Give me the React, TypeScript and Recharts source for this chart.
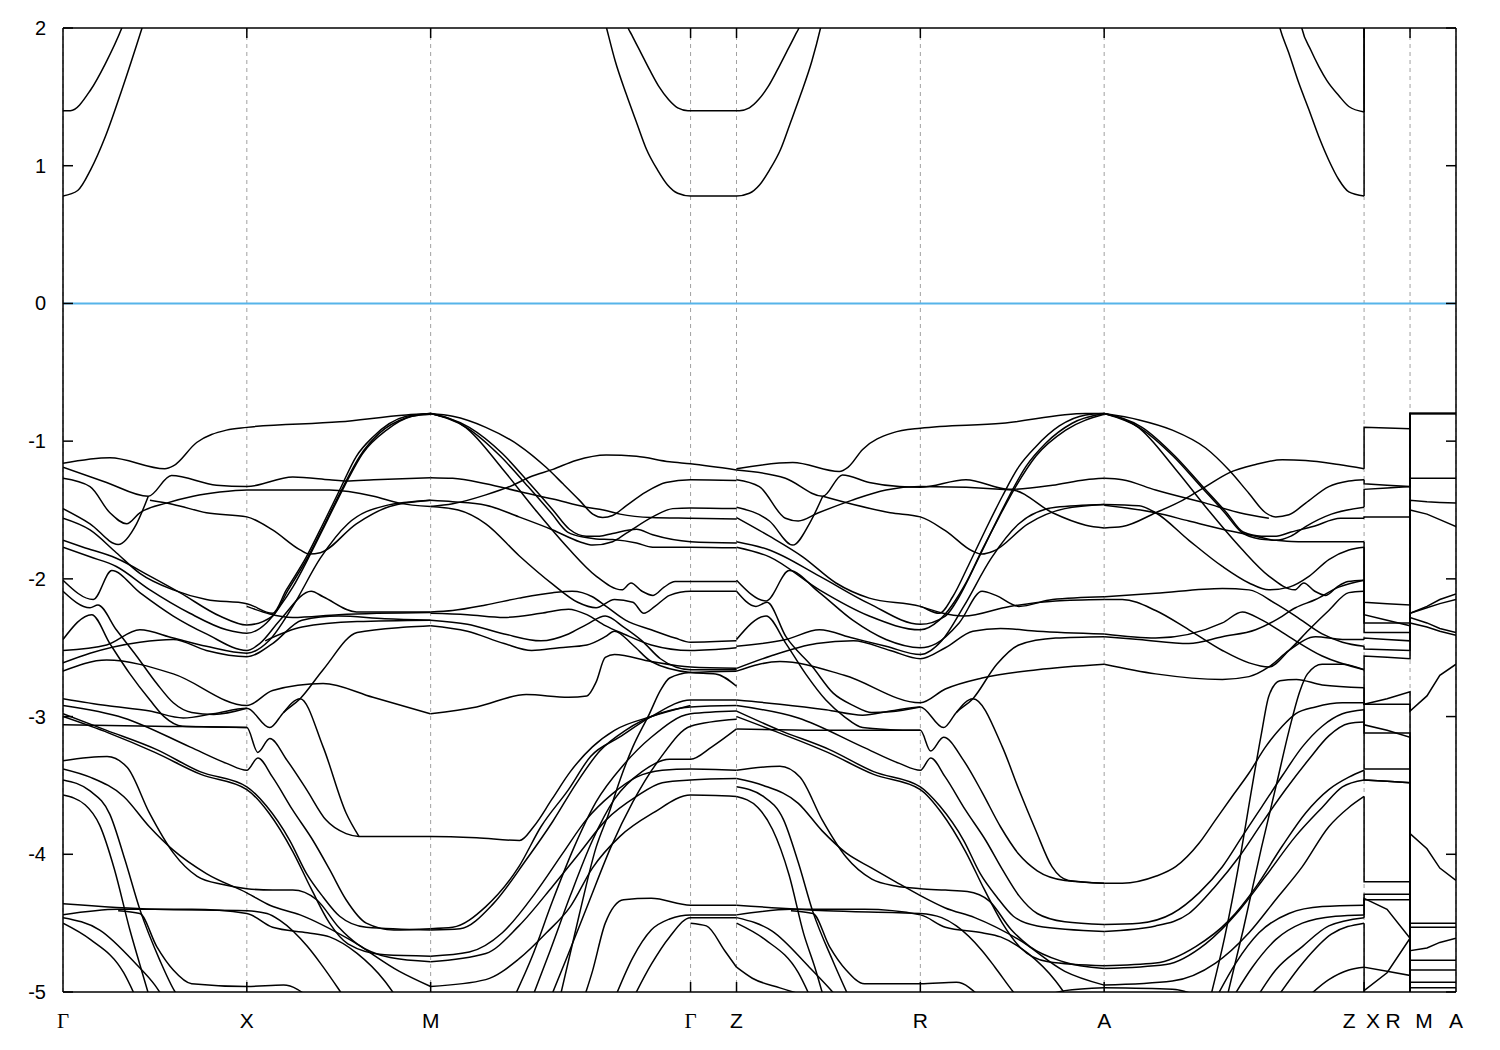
import React from "react";
import { LineChart, Line, XAxis, YAxis, CartesianGrid, ReferenceLine } from "recharts";

type Pt = [number, number];

// path: Γ-X-M-Γ-Z-R-A-Z|X-R|M-A  (k in units of 2π/a)
const kTicks = [0, 1, 2, 3.414, 3.664, 4.664, 5.664, 7.078, 7.328, 7.578];
const kLabels = ["Γ", "X", "M", "Γ", "Z", "R", "A", "Z X", "R M", "A"];
const eTicks = [2, 1, 0, -1, -2, -3, -4, -5];

// conduction bands
const conduction: Pt[][] = [
  [[0,0.78],[0.08,0.82],[0.15,0.97],[0.23,1.21],[0.32,1.55],[0.43,2.0],[0.5,2.3]],
  [[0,1.40],[0.04,1.40],[0.15,1.55],[0.23,1.74],[0.32,2.0],[0.4,2.3]],
  [[2.9,2.3],[2.957,2.0],[3.004,1.76],[3.064,1.52],[3.124,1.30],[3.174,1.12],[3.234,0.97],[3.289,0.86],[3.344,0.80],[3.414,0.78],[3.664,0.78],[3.734,0.80],[3.789,0.86],[3.844,0.97],[3.904,1.12],[3.954,1.30],[4.014,1.52],[4.074,1.76],[4.121,2.0],[4.17,2.3]],
  [[3.03,2.3],[3.069,2.02],[3.094,1.95],[3.144,1.82],[3.194,1.69],[3.244,1.57],[3.294,1.48],[3.344,1.42],[3.40,1.40],[3.68,1.40],[3.734,1.42],[3.784,1.48],[3.834,1.57],[3.884,1.69],[3.934,1.82],[3.984,1.95],[4.009,2.02],[4.05,2.3]],
  [[6.57,2.3],[6.62,2.0],[6.668,1.82],[6.723,1.60],[6.777,1.41],[6.832,1.21],[6.886,1.04],[6.94,0.90],[6.995,0.81],[7.078,0.78]],
  [[6.70,2.3],[6.739,2.0],[6.788,1.84],[6.832,1.72],[6.875,1.62],[6.94,1.51],[6.995,1.43],[7.078,1.39]],
];
const conductionJumps: Pt[][] = [
  [[7.078,0.78],[7.078,2.5]],
  [[7.078,1.39],[7.078,2.5]],
];

// valence bands Γ-X-M
const bandsGXM: Pt[][] = [
  [[0,-1.16],[0.255,-1.12],[0.554,-1.20],[0.60,-1.18],[0.727,-1.01],[0.889,-0.92],[1.0,-0.90],[1.505,-0.86],[1.867,-0.81],[2.0,-0.80]],
  [[0,-1.19],[0.237,-1.30],[0.464,-1.40],[0.59,-1.25],[0.835,-1.32],[1.0,-1.33],[1.25,-1.26],[1.45,-1.28],[1.54,-1.29],[1.69,-1.28],[2.0,-1.265]],
  [[0,-1.27],[0.147,-1.33],[0.255,-1.52],[0.346,-1.60],[0.418,-1.52],[0.563,-1.45],[0.708,-1.40],[0.853,-1.37],[1.0,-1.355],[1.45,-1.355],[1.69,-1.40],[1.83,-1.45],[2.0,-1.475]],
  [[0,-1.49],[0.147,-1.60],[0.30,-1.75],[0.40,-1.60],[0.464,-1.40]],
  [[0,-1.56],[0.147,-1.645],[0.29,-1.81],[0.418,-1.96],[0.60,-2.08],[0.78,-2.15],[1.0,-2.18],[1.14,-2.25],[1.215,-2.08],[1.324,-1.84],[1.415,-1.60],[1.505,-1.355],[1.596,-1.11],[1.686,-0.97],[1.868,-0.82],[2.0,-0.80]],
  [[0,-1.72],[0.11,-1.77],[0.29,-1.85],[0.473,-1.98],[0.636,-2.10],[0.853,-2.27],[1.0,-2.335],[1.14,-2.27],[1.225,-2.08],[1.333,-1.84],[1.424,-1.60],[1.515,-1.355],[1.614,-1.11],[1.723,-0.94],[1.868,-0.83],[2.0,-0.80]],
  [[0,-1.77],[0.147,-1.84],[0.29,-1.91],[0.473,-2.08],[0.69,-2.25],[0.89,-2.37],[1.0,-2.395],[1.107,-2.32],[1.18,-2.20],[1.25,-2.06],[1.35,-1.81],[1.44,-1.57],[1.53,-1.33],[1.63,-1.09],[1.76,-0.92],[1.90,-0.82],[2.0,-0.805]],
  [[0,-2.01],[0.165,-2.15],[0.265,-1.94],[0.418,-2.10],[0.60,-2.27],[0.78,-2.40],[1.0,-2.52],[1.07,-2.47],[1.18,-2.30],[1.35,-2.09],[1.415,-2.13],[1.596,-2.24],[2.0,-2.24]],
  [[0,-2.09],[0.147,-2.21],[0.19,-2.19],[0.29,-2.37],[0.40,-2.56],[0.51,-2.76],[0.60,-2.90],[0.70,-2.97],[0.82,-2.985],[1.0,-2.94]],
  [[0,-2.44],[0.156,-2.26],[0.255,-2.47],[0.364,-2.69],[0.473,-2.88],[0.55,-3.0],[0.65,-3.07],[0.8,-3.075],[1.0,-3.08]],
  [[0,-2.52],[0.237,-2.48],[0.418,-2.37],[0.60,-2.43],[0.78,-2.49],[1.0,-2.54],[1.12,-2.45],[1.25,-2.2],[1.4,-1.85],[1.55,-1.6],[1.75,-1.47],[2.0,-1.43]],
  [[0,-2.61],[0.147,-2.54],[0.418,-2.46],[0.60,-2.44],[0.78,-2.52],[1.0,-2.565],[1.14,-2.47],[1.3,-2.30],[1.5,-2.27],[1.75,-2.29],[2.0,-2.30]],
  [[0,-2.67],[0.237,-2.59],[0.60,-2.69],[1.0,-2.92],[1.14,-2.81],[1.415,-2.76],[1.686,-2.86],[2.0,-2.98]],
  [[0.473,-1.43],[0.60,-1.46],[0.78,-1.52],[1.0,-1.55],[1.14,-1.645],[1.29,-1.79],[1.34,-1.82],[1.40,-1.81],[1.596,-1.60],[1.777,-1.475],[2.0,-1.43]],
  [[1.0,-2.20],[1.25,-2.28],[1.5,-2.26],[2.0,-2.245]],
  [[1.1,-2.45],[1.3,-2.35],[1.6,-2.31],[2.0,-2.30]],
  [[0,-2.87],[0.237,-2.92],[0.473,-2.96],[0.654,-3.01],[0.817,-2.98],[1.0,-2.94],[1.125,-3.08],[1.2,-2.97],[1.29,-2.87],[1.415,-2.66],[1.6,-2.39],[1.87,-2.35],[2.0,-2.34]],
  [[1.2,-2.97],[1.29,-2.87],[1.415,-3.22],[1.54,-3.70],[1.61,-3.87]],
  [[0,-3.06],[0.5,-3.07],[1.0,-3.08],[1.06,-3.26],[1.125,-3.16],[1.22,-3.32],[1.325,-3.53],[1.43,-3.75],[1.54,-3.85],[1.61,-3.87],[2.0,-3.87],[2.25,-3.88],[2.484,-3.90],[2.56,-3.80],[2.66,-3.60],[2.76,-3.40],[2.88,-3.22],[3.0,-3.10],[3.2,-3.0],[3.414,-2.92]],
  [[0,-2.92],[0.33,-3.01],[0.69,-3.22],[0.89,-3.34],[1.0,-3.39],[1.06,-3.30],[1.14,-3.44],[1.25,-3.68],[1.36,-3.90],[1.45,-4.11],[1.54,-4.33],[1.65,-4.50],[1.8,-4.55],[2.0,-4.54]],
  [[0,-2.98],[0.237,-3.10],[0.51,-3.24],[0.745,-3.40],[1.0,-3.51],[1.107,-3.65],[1.234,-3.90],[1.325,-4.14],[1.415,-4.31],[1.505,-4.45],[1.65,-4.53],[2.0,-4.55]],
  [[0,-3.0],[0.25,-3.12],[0.5,-3.26],[0.75,-3.42],[1.0,-3.53],[1.12,-3.70],[1.25,-3.98],[1.35,-4.25],[1.45,-4.50],[1.55,-4.65],[1.75,-4.73],[2.0,-4.74]],
  [[0,-3.32],[0.24,-3.29],[0.35,-3.37],[0.47,-3.70],[0.60,-3.99],[0.73,-4.16],[0.87,-4.22],[1.0,-4.25],[1.14,-4.26],[1.25,-4.26],[1.38,-4.33],[1.5,-4.53],[1.6,-4.65],[1.78,-4.75],[2.0,-4.78]],
  [[0,-3.38],[0.147,-3.44],[0.33,-3.58],[0.47,-3.80],[0.6,-3.97],[0.78,-4.14],[1.0,-4.28],[1.125,-4.37],[1.29,-4.44],[1.56,-4.62],[1.83,-4.85],[2.0,-4.96]],
  [[0,-3.46],[0.147,-3.54],[0.255,-3.71],[0.337,-4.04],[0.418,-4.40],[0.527,-4.77],[0.61,-5.0],[0.69,-5.13]],
  [[0,-3.57],[0.12,-3.64],[0.2,-3.79],[0.28,-4.11],[0.364,-4.55],[0.418,-4.80],[0.473,-5.05]],
  [[0,-4.36],[0.5,-4.40],[1.0,-4.41],[1.11,-4.43],[1.18,-4.48],[1.33,-4.67],[1.4,-4.79],[1.5,-4.98],[1.55,-5.08]],
  [[0,-4.44],[0.3,-4.40],[0.7,-4.40],[1.0,-4.43],[1.14,-4.53],[1.33,-4.57],[1.45,-4.60],[1.6,-4.72],[1.75,-4.92],[1.82,-5.05]],
  [[0,-4.46],[0.2,-4.55],[0.4,-4.80],[0.5,-4.95],[0.55,-5.05]],
  [[0,-4.50],[0.15,-4.62],[0.33,-4.86],[0.4,-5.05]],
  [[0.3,-4.41],[0.418,-4.43],[0.51,-4.67],[0.6,-4.84],[0.7,-4.94],[1.0,-4.96],[1.2,-4.95],[1.35,-5.05]],
];

// valence bands M-Γ-Z
const bandsMGZ: Pt[][] = [
  [[2.0,-0.80],[2.12,-0.82],[2.30,-0.90],[2.48,-1.03],[2.628,-1.19],[2.72,-1.31],[2.81,-1.43],[2.882,-1.53],[2.936,-1.555],[2.99,-1.54],[3.063,-1.47],[3.17,-1.37],[3.28,-1.30],[3.414,-1.28],[3.664,-1.285]],
  [[2.0,-1.475],[2.12,-1.455],[2.30,-1.39],[2.447,-1.32],[2.54,-1.26],[2.665,-1.205],[2.79,-1.14],[2.955,-1.10],[3.12,-1.11],[3.30,-1.15],[3.414,-1.165],[3.664,-1.21]],
  [[2.0,-1.265],[2.12,-1.27],[2.30,-1.31],[2.48,-1.365],[2.665,-1.42],[2.846,-1.48],[2.94,-1.50],[3.03,-1.53],[3.2,-1.555],[3.414,-1.56],[3.664,-1.565]],
  [[2.0,-1.43],[2.12,-1.44],[2.30,-1.465],[2.48,-1.55],[2.665,-1.645],[2.81,-1.73],[2.882,-1.755],[2.99,-1.73],[3.063,-1.67],[3.208,-1.55],[3.317,-1.49],[3.414,-1.485],[3.664,-1.49]],
  [[2.0,-0.80],[2.21,-0.90],[2.39,-1.09],[2.54,-1.31],[2.665,-1.50],[2.755,-1.64],[2.846,-1.69],[2.918,-1.69],[2.99,-1.67],[3.12,-1.64],[3.208,-1.68],[3.414,-1.73],[3.664,-1.74]],
  [[2.0,-0.80],[2.20,-0.905],[2.38,-1.11],[2.53,-1.33],[2.655,-1.52],[2.745,-1.66],[2.846,-1.70],[2.90,-1.71],[2.99,-1.715],[3.12,-1.74],[3.208,-1.77],[3.414,-1.77],[3.664,-1.775]],
  [[2.0,-0.80],[2.19,-0.90],[2.39,-1.20],[2.57,-1.50],[2.75,-1.78],[2.90,-1.98],[3.04,-2.08],[3.09,-2.03],[3.15,-2.09],[3.21,-2.12],[3.27,-2.06],[3.33,-2.02],[3.414,-2.02],[3.664,-2.02]],
  [[2.0,-1.475],[2.15,-1.50],[2.30,-1.60],[2.48,-1.83],[2.665,-2.04],[2.80,-2.17],[2.90,-2.21],[3.00,-2.15],[3.10,-2.17],[3.16,-2.25],[3.22,-2.20],[3.30,-2.12],[3.414,-2.09],[3.664,-2.09]],
  [[2.0,-2.24],[2.12,-2.23],[2.30,-2.19],[2.48,-2.14],[2.665,-2.10],[2.77,-2.09],[2.88,-2.13],[2.955,-2.20],[3.06,-2.30],[3.2,-2.37],[3.33,-2.43],[3.414,-2.46],[3.664,-2.45]],
  [[2.0,-2.25],[2.2,-2.26],[2.4,-2.28],[2.6,-2.25],[2.75,-2.22],[2.85,-2.26],[2.95,-2.34],[3.05,-2.40],[3.2,-2.48],[3.414,-2.52],[3.664,-2.50]],
  [[2.0,-2.30],[2.2,-2.33],[2.4,-2.40],[2.6,-2.45],[2.75,-2.40],[2.85,-2.33],[2.95,-2.27],[3.05,-2.35],[3.15,-2.45],[3.25,-2.58],[3.414,-2.66],[3.664,-2.66]],
  [[2.0,-2.34],[2.2,-2.38],[2.4,-2.47],[2.55,-2.52],[2.7,-2.50],[2.85,-2.48],[2.95,-2.42],[3.0,-2.38],[3.1,-2.48],[3.2,-2.60],[3.414,-2.68],[3.55,-2.69],[3.664,-2.78]],
  [[2.0,-2.98],[2.25,-2.93],[2.52,-2.84],[2.75,-2.86],[2.85,-2.85],[2.90,-2.75],[2.95,-2.57],[3.0,-2.55],[3.2,-2.60],[3.414,-2.64],[3.664,-2.65]],
  [[2.70,-5.06],[2.81,-4.43],[2.90,-3.95],[2.97,-3.70],[3.03,-3.46],[3.10,-3.22],[3.19,-2.98],[3.25,-2.81],[3.3,-2.72],[3.414,-2.68],[3.664,-2.67]],
  [[2.0,-4.54],[2.12,-4.53],[2.30,-4.38],[2.48,-4.09],[2.60,-3.80],[2.75,-3.53],[2.87,-3.29],[3.027,-3.15],[3.20,-3.00],[3.414,-2.88],[3.664,-2.88]],
  [[2.0,-4.55],[2.16,-4.54],[2.34,-4.36],[2.52,-4.04],[2.665,-3.76],[2.79,-3.49],[2.92,-3.25],[3.06,-3.10],[3.24,-2.98],[3.414,-2.93],[3.664,-2.92]],
  [[2.0,-4.74],[2.21,-4.71],[2.39,-4.57],[2.57,-4.28],[2.72,-3.99],[2.846,-3.75],[2.99,-3.56],[3.12,-3.44],[3.26,-3.39],[3.414,-3.38],[3.664,-3.39]],
  [[2.0,-4.78],[2.30,-4.72],[2.48,-4.52],[2.665,-4.23],[2.81,-3.99],[2.955,-3.75],[3.12,-3.58],[3.26,-3.48],[3.414,-3.46],[3.664,-3.45]],
  [[2.0,-4.96],[2.30,-4.91],[2.48,-4.76],[2.63,-4.57],[2.76,-4.38],[2.88,-4.10],[3.03,-3.87],[3.21,-3.70],[3.414,-3.57],[3.664,-3.58]],
  [[2.45,-5.05],[2.55,-4.75],[2.66,-4.35],[2.78,-3.95],[2.9,-3.62],[3.05,-3.35],[3.2,-3.15],[3.414,-2.98],[3.664,-2.96]],
  [[2.55,-5.05],[2.65,-4.7],[2.76,-4.3],[2.88,-3.9],[3.0,-3.6],[3.15,-3.40],[3.3,-3.31],[3.414,-3.31],[3.53,-3.22],[3.664,-3.09]],
  [[2.65,-5.05],[2.75,-4.72],[2.86,-4.35],[2.98,-3.95],[3.1,-3.62],[3.25,-3.30],[3.414,-3.07],[3.664,-3.02]],
  [[2.82,-5.1],[2.88,-4.85],[2.95,-4.50],[3.05,-4.33],[3.2,-4.32],[3.414,-4.37],[3.664,-4.37]],
  [[3.0,-5.05],[3.1,-4.75],[3.2,-4.55],[3.3,-4.47],[3.414,-4.44],[3.664,-4.44]],
  [[3.1,-5.05],[3.2,-4.8],[3.3,-4.6],[3.414,-4.46],[3.664,-4.46]],
  [[3.414,-4.50],[3.5,-4.52],[3.6,-4.70],[3.664,-4.82]],
];

// valence bands Z-R-A
const bandsZRA: Pt[][] = [
  [[3.664,-1.20],[3.97,-1.155],[4.223,-1.22],[4.27,-1.19],[4.35,-1.06],[4.513,-0.94],[4.664,-0.906],[5.11,-0.87],[5.564,-0.80],[5.664,-0.80]],
  [[3.664,-1.21],[3.93,-1.27],[4.133,-1.40],[4.24,-1.245],[4.386,-1.30],[4.55,-1.33],[4.664,-1.335],[4.912,-1.28],[5.147,-1.35],[5.383,-1.32],[5.564,-1.28],[5.664,-1.27]],
  [[3.664,-1.28],[3.788,-1.33],[3.93,-1.56],[4.0,-1.58],[4.11,-1.52],[4.29,-1.43],[4.477,-1.355],[4.664,-1.33],[5.165,-1.355],[5.383,-1.52],[5.564,-1.61],[5.664,-1.63]],
  [[3.664,-1.48],[3.843,-1.58],[3.97,-1.755],[4.06,-1.60],[4.133,-1.40]],
  [[3.664,-1.555],[3.843,-1.69],[4.024,-1.84],[4.205,-2.03],[4.386,-2.14],[4.664,-2.20],[4.767,-2.25],[4.84,-2.13],[4.93,-1.89],[5.02,-1.64],[5.11,-1.40],[5.2,-1.185],[5.292,-1.04],[5.42,-0.89],[5.564,-0.81],[5.664,-0.80]],
  [[3.664,-1.73],[3.843,-1.79],[4.115,-1.98],[4.386,-2.18],[4.664,-2.33],[4.80,-2.27],[4.875,-2.13],[4.966,-1.89],[5.057,-1.64],[5.147,-1.40],[5.238,-1.185],[5.346,-1.015],[5.49,-0.87],[5.664,-0.80]],
  [[3.664,-1.77],[3.843,-1.84],[4.115,-2.08],[4.386,-2.27],[4.664,-2.37],[4.767,-2.30],[4.912,-2.03],[5.0,-1.79],[5.093,-1.55],[5.183,-1.33],[5.292,-1.11],[5.455,-0.92],[5.664,-0.805]],
  [[3.664,-2.01],[3.825,-2.16],[3.951,-1.94],[4.115,-2.10],[4.296,-2.30],[4.477,-2.44],[4.664,-2.50],[4.75,-2.47],[4.875,-2.32],[5.0,-2.09],[5.075,-2.12],[5.2,-2.20],[5.383,-2.15],[5.664,-2.13]],
  [[3.664,-2.09],[3.77,-2.20],[3.83,-2.17],[3.933,-2.42],[4.078,-2.64],[4.19,-2.83],[4.3,-2.92],[4.4,-2.97],[4.5,-2.965],[4.664,-2.93]],
  [[3.664,-2.44],[3.825,-2.27],[3.933,-2.47],[4.04,-2.69],[4.15,-2.88],[4.25,-3.0],[4.35,-3.08],[4.5,-3.095],[4.664,-3.10]],
  [[3.664,-2.49],[3.933,-2.44],[4.115,-2.37],[4.296,-2.43],[4.477,-2.49],[4.664,-2.55],[4.78,-2.45],[4.9,-2.2],[5.05,-1.85],[5.2,-1.6],[5.4,-1.48],[5.664,-1.46]],
  [[3.664,-2.65],[3.85,-2.56],[4.1,-2.47],[4.3,-2.45],[4.5,-2.52],[4.664,-2.58],[4.8,-2.5],[4.95,-2.38],[5.1,-2.36],[5.3,-2.38],[5.664,-2.40]],
  [[3.664,-2.67],[3.9,-2.60],[4.25,-2.70],[4.664,-2.90],[4.8,-2.80],[5.0,-2.72],[5.3,-2.66],[5.664,-2.62]],
  [[4.133,-1.40],[4.3,-1.46],[4.5,-1.52],[4.664,-1.55],[4.8,-1.65],[4.95,-1.80],[5.0,-1.82],[5.06,-1.80],[5.25,-1.60],[5.45,-1.49],[5.664,-1.46]],
  [[4.664,-2.20],[4.9,-2.27],[5.15,-2.20],[5.4,-2.16],[5.664,-2.15]],
  [[3.664,-2.88],[3.9,-2.91],[4.15,-2.95],[4.35,-2.99],[4.5,-2.96],[4.664,-2.93],[4.79,-3.08],[4.86,-2.97],[4.95,-2.87],[5.08,-2.62],[5.2,-2.48],[5.4,-2.43],[5.664,-2.42]],
  [[4.86,-2.97],[4.95,-2.87],[5.11,-3.22],[5.2,-3.53],[5.29,-3.82],[5.38,-4.09],[5.47,-4.19],[5.664,-4.21]],
  [[3.664,-3.09],[4.1,-3.10],[4.664,-3.10],[4.72,-3.25],[4.79,-3.15],[4.9,-3.32],[5.0,-3.55],[5.1,-3.80],[5.2,-4.0],[5.3,-4.12],[5.45,-4.19],[5.664,-4.21]],
  [[3.664,-2.92],[4.0,-3.01],[4.35,-3.22],[4.55,-3.34],[4.664,-3.39],[4.72,-3.30],[4.8,-3.44],[4.91,-3.68],[5.02,-3.90],[5.11,-4.11],[5.2,-4.30],[5.3,-4.43],[5.45,-4.49],[5.664,-4.51]],
  [[3.664,-2.96],[3.9,-3.10],[4.17,-3.24],[4.41,-3.40],[4.664,-3.51],[4.77,-3.65],[4.9,-3.90],[4.99,-4.14],[5.08,-4.31],[5.17,-4.45],[5.3,-4.52],[5.664,-4.56]],
  [[3.664,-3.0],[3.9,-3.12],[4.16,-3.26],[4.41,-3.42],[4.664,-3.53],[4.78,-3.70],[4.91,-3.98],[5.01,-4.25],[5.11,-4.50],[5.21,-4.68],[5.36,-4.78],[5.664,-4.81]],
  [[3.664,-3.39],[3.9,-3.36],[4.01,-3.44],[4.13,-3.75],[4.26,-4.02],[4.4,-4.18],[4.53,-4.23],[4.664,-4.25],[4.8,-4.26],[4.92,-4.27],[5.04,-4.34],[5.16,-4.55],[5.26,-4.67],[5.44,-4.78],[5.664,-4.83]],
  [[3.664,-3.45],[3.81,-3.50],[4.0,-3.63],[4.13,-3.83],[4.26,-3.99],[4.4,-4.10],[4.53,-4.20],[4.664,-4.30],[4.8,-4.39],[4.96,-4.46],[5.2,-4.62],[5.45,-4.85],[5.664,-4.95]],
  [[3.664,-3.51],[3.81,-3.58],[3.92,-3.75],[4.0,-4.06],[4.08,-4.42],[4.19,-4.78],[4.28,-5.05]],
  [[3.664,-3.58],[3.78,-3.66],[3.86,-3.82],[3.95,-4.15],[4.03,-4.58],[4.09,-4.82],[4.14,-5.05]],
  [[3.664,-4.37],[4.15,-4.41],[4.664,-4.43],[4.78,-4.46],[4.86,-4.52],[5.0,-4.70],[5.07,-4.82],[5.17,-5.0],[5.22,-5.08]],
  [[3.664,-4.44],[3.96,-4.40],[4.36,-4.40],[4.664,-4.44],[4.8,-4.53],[5.0,-4.57],[5.1,-4.60],[5.25,-4.72],[5.4,-4.92],[5.47,-5.05]],
  [[3.664,-4.46],[3.86,-4.56],[4.06,-4.82],[4.16,-4.96],[4.22,-5.05]],
  [[3.664,-4.50],[3.82,-4.62],[4.0,-4.86],[4.07,-5.05]],
  [[3.664,-4.82],[3.75,-4.90],[3.9,-4.97],[4.1,-5.05]],
  [[3.96,-4.41],[4.08,-4.43],[4.17,-4.67],[4.26,-4.84],[4.36,-4.94],[4.664,-4.94],[4.86,-4.93],[5.0,-5.05]],
  [[5.3,-5.05],[5.45,-4.99],[5.664,-4.97]],
];

// valence bands A-Z
const bandsAZ: Pt[][] = [
  [[5.664,-0.80],[5.854,-0.846],[6.035,-0.92],[6.216,-1.05],[6.343,-1.21],[6.452,-1.38],[6.542,-1.52],[6.597,-1.55],[6.669,-1.535],[6.76,-1.45],[6.886,-1.33],[6.995,-1.29],[7.078,-1.28]],
  [[5.664,-1.63],[5.763,-1.62],[5.944,-1.52],[6.09,-1.43],[6.216,-1.33],[6.343,-1.23],[6.488,-1.17],[6.633,-1.135],[6.76,-1.14],[6.94,-1.17],[7.078,-1.20]],
  [[5.664,-1.27],[5.763,-1.28],[5.944,-1.355],[6.216,-1.45],[6.4,-1.52],[6.56,-1.56]],
  [[5.664,-0.80],[5.87,-0.90],[6.05,-1.11],[6.2,-1.33],[6.33,-1.52],[6.42,-1.66],[6.52,-1.69],[6.6,-1.69],[6.68,-1.66],[6.8,-1.62],[6.95,-1.56],[7.078,-1.56]],
  [[5.664,-0.80],[5.86,-0.905],[6.04,-1.11],[6.19,-1.33],[6.32,-1.52],[6.41,-1.66],[6.51,-1.71],[6.6,-1.72],[6.72,-1.73],[6.9,-1.73],[7.078,-1.73]],
  [[5.664,-0.80],[5.85,-0.90],[6.05,-1.20],[6.23,-1.50],[6.41,-1.78],[6.56,-1.98],[6.70,-2.08],[6.75,-2.03],[6.81,-2.09],[6.87,-2.12],[6.93,-2.06],[6.99,-2.02],[7.078,-2.01]],
  [[5.664,-1.46],[5.854,-1.47],[5.944,-1.52],[6.125,-1.72],[6.307,-1.91],[6.452,-2.03],[6.56,-2.08],[6.67,-2.06],[6.78,-1.98],[6.886,-1.86],[6.995,-1.79],[7.078,-1.77]],
  [[5.664,-1.465],[5.944,-1.52],[6.125,-1.58],[6.307,-1.64],[6.488,-1.69],[6.597,-1.72],[6.68,-1.69],[6.76,-1.62],[6.9,-1.53],[7.078,-1.48]],
  [[5.664,-2.13],[5.944,-2.105],[6.307,-2.07],[6.452,-2.08],[6.597,-2.18],[6.705,-2.27],[6.85,-2.40],[6.96,-2.46],[7.078,-2.49]],
  [[5.664,-2.15],[5.763,-2.15],[5.944,-2.23],[6.125,-2.37],[6.307,-2.52],[6.452,-2.61],[6.56,-2.64],[6.669,-2.52],[6.778,-2.37],[6.886,-2.23],[6.995,-2.10],[7.078,-2.09]],
  [[5.664,-2.40],[5.944,-2.43],[6.307,-2.32],[6.415,-2.24],[6.524,-2.30],[6.669,-2.42],[6.85,-2.56],[7.078,-2.66]],
  [[5.664,-2.42],[5.854,-2.44],[6.125,-2.47],[6.307,-2.42],[6.488,-2.37],[6.597,-2.30],[6.705,-2.21],[6.814,-2.15],[6.94,-2.06],[7.078,-2.01]],
  [[5.664,-2.62],[5.944,-2.69],[6.307,-2.73],[6.452,-2.71],[6.56,-2.64],[6.669,-2.52],[6.814,-2.42],[6.96,-2.44],[7.078,-2.44]],
  [[6.24,-5.05],[6.32,-4.6],[6.4,-4.05],[6.47,-3.5],[6.52,-3.12],[6.56,-2.85],[6.62,-2.74],[6.71,-2.73],[6.85,-2.77],[7.078,-2.79]],
  [[6.33,-5.05],[6.42,-4.55],[6.52,-3.95],[6.6,-3.5],[6.67,-3.1],[6.73,-2.81],[6.77,-2.69],[6.85,-2.62],[6.96,-2.62],[7.078,-2.66]],
  [[5.664,-4.21],[5.763,-4.21],[5.944,-4.16],[6.053,-4.09],[6.18,-3.92],[6.27,-3.75],[6.36,-3.58],[6.452,-3.41],[6.542,-3.22],[6.633,-3.07],[6.705,-2.98],[6.814,-2.93],[6.96,-2.90],[7.078,-2.90]],
  [[5.664,-4.51],[5.854,-4.50],[6.035,-4.43],[6.18,-4.28],[6.307,-4.09],[6.415,-3.87],[6.524,-3.65],[6.633,-3.43],[6.742,-3.22],[6.85,-3.07],[6.96,-2.98],[7.078,-2.95]],
  [[5.664,-4.56],[5.944,-4.52],[6.125,-4.43],[6.27,-4.23],[6.397,-4.02],[6.524,-3.77],[6.651,-3.53],[6.778,-3.31],[6.886,-3.14],[6.995,-3.05],[7.078,-3.04]],
  [[5.664,-4.81],[5.944,-4.79],[6.162,-4.67],[6.343,-4.48],[6.488,-4.24],[6.633,-3.94],[6.76,-3.70],[6.886,-3.53],[6.995,-3.44],[7.078,-3.39]],
  [[5.664,-4.83],[6.0,-4.80],[6.216,-4.65],[6.397,-4.41],[6.542,-4.16],[6.705,-3.87],[6.85,-3.66],[6.96,-3.51],[7.078,-3.46]],
  [[5.664,-4.95],[6.035,-4.92],[6.27,-4.79],[6.452,-4.57],[6.597,-4.33],[6.742,-4.09],[6.886,-3.80],[6.995,-3.66],[7.078,-3.58]],
  [[6.27,-5.05],[6.38,-4.79],[6.506,-4.57],[6.669,-4.43],[6.85,-4.38],[7.078,-4.37]],
  [[6.36,-5.05],[6.47,-4.82],[6.597,-4.62],[6.742,-4.50],[6.923,-4.45],[7.078,-4.44]],
  [[6.49,-5.05],[6.597,-4.84],[6.742,-4.67],[6.886,-4.52],[7.078,-4.46]],
  [[6.6,-5.05],[6.75,-4.78],[6.9,-4.58],[7.078,-4.50]],
  [[6.76,-5.05],[6.886,-4.91],[6.995,-4.84],[7.078,-4.82]],
  [[5.664,-4.97],[6.035,-4.98],[6.216,-5.05]],
];

// X-R and M-A legs, one row per band: Z, X, mid, R  |  M, mid, mid, A
const xrK = [7.078, 7.078, 7.203, 7.328];
const maK = [7.328, 7.42, 7.49, 7.578];
const xrRows: number[][] = [
  [-1.20,-0.90,-0.905,-0.91],[-1.28,-1.31,-1.32,-1.33],[-1.48,-1.35,-1.34,-1.33],[-1.56,-1.55,-1.55,-1.55],
  [-1.73,-2.17,-2.18,-2.19],[-1.77,-2.26,-2.30,-2.34],[-2.01,-2.32,-2.32,-2.32],[-2.09,-2.39,-2.39,-2.39],
  [-2.44,-2.43,-2.44,-2.45],[-2.49,-2.51,-2.515,-2.52],[-2.66,-2.56,-2.57,-2.58],[-2.66,-2.91,-2.87,-2.82],
  [-2.79,-2.91,-2.91,-2.91],[-2.90,-3.06,-3.10,-3.15],[-2.95,-3.12,-3.12,-3.12],[-3.04,-3.38,-3.38,-3.38],
  [-3.39,-3.46,-3.47,-3.48],[-3.46,-3.46,-3.47,-3.48],[-3.58,-4.20,-4.20,-4.20],[-4.37,-4.29,-4.29,-4.29],
  [-4.44,-4.32,-4.40,-4.61],[-4.46,-4.33,-4.33,-4.33],[-4.50,-4.82,-4.85,-4.88],[-4.82,-4.99,-4.86,-4.61],
];
const maRows: number[][] = [
  [-0.80,-0.80,-0.80,-0.80],[-0.80,-0.80,-0.80,-0.80],[-0.80,-0.80,-0.80,-0.80],[-0.80,-0.80,-0.80,-0.80],
  [-1.27,-1.27,-1.27,-1.27],[-1.43,-1.44,-1.445,-1.45],[-1.50,-1.53,-1.57,-1.62],[-2.25,-2.20,-2.15,-2.11],
  [-2.25,-2.21,-2.18,-2.15],[-2.28,-2.32,-2.36,-2.39],[-2.32,-2.35,-2.38,-2.41],[-2.96,-2.85,-2.70,-2.62],
  [-3.85,-3.96,-4.10,-4.19],[-4.50,-4.50,-4.50,-4.50],[-4.53,-4.53,-4.53,-4.53],[-4.70,-4.68,-4.64,-4.61],
  [-4.77,-4.77,-4.77,-4.77],[-4.84,-4.84,-4.84,-4.84],[-4.93,-4.93,-4.93,-4.93],[-4.97,-4.97,-4.97,-4.97],
  [-5.3,-5.3,-5.3,-5.3],[-5.3,-5.3,-5.3,-5.3],[-5.3,-5.3,-5.3,-5.3],[-5.3,-5.3,-5.3,-5.3],
];

const toPts = (s: Pt[]) => s.map(([k, e]) => ({ k, e }));
const smoothSeries = [...conduction, ...bandsGXM, ...bandsMGZ, ...bandsZRA, ...bandsAZ].map(toPts);
const straightSeries = [
  ...conductionJumps.map(toPts),
  ...xrRows.map((r, i) => [
    ...xrK.map((k, j) => ({ k, e: r[j] })),
    ...maK.map((k, j) => ({ k, e: maRows[i][j] })),
  ]),
];

const splitOffsets: Record<string, number[]> = { "Z X": [-15, 9], "R M": [-17, 14] };
const sans = "'Liberation Sans', Arial, Helvetica, sans-serif";
const serif = "'Liberation Serif', 'Times New Roman', serif";

const tickIndex = (v: number) => kTicks.findIndex((t) => Math.abs(t - v) < 1e-6);

const BottomTick = (props: any) => {
  const { x, y, payload } = props;
  const i = tickIndex(payload.value);
  const label = kLabels[i] ?? "";
  const parts = label.split(" ");
  const offs = parts.length > 1 ? splitOffsets[label] : [0];
  const inner = i > 0 && i < kTicks.length - 1;
  return (
    <g>
      {inner && <line x1={x} x2={x} y1={y} y2={y - 10} stroke="#000" strokeWidth={1.5} />}
      {parts.map((p, j) => (
        <text key={j} x={x + offs[j]} y={y + 36} textAnchor="middle" fontSize={21}
          fontFamily={p === "Γ" ? serif : sans} fill="#000">{p}</text>
      ))}
    </g>
  );
};

const TopTick = (props: any) => {
  const { x, y, payload } = props;
  const i = tickIndex(payload.value);
  if (i <= 0 || i >= kTicks.length - 1) return <g />;
  return <line x1={x} x2={x} y1={y} y2={y + 10} stroke="#000" strokeWidth={1.5} />;
};

const LeftTick = (props: any) => {
  const { x, y, payload } = props;
  return (
    <g>
      <line x1={x} x2={x + 10} y1={y} y2={y} stroke="#000" strokeWidth={1.5} />
      <text x={x - 17} y={y + 7} textAnchor="end" fontSize={20} fontFamily={sans} fill="#000">{payload.value}</text>
    </g>
  );
};

const RightTick = (props: any) => {
  const { x, y } = props;
  return <line x1={x} x2={x - 10} y1={y} y2={y} stroke="#000" strokeWidth={1.5} />;
};

const frame = { stroke: "#000", strokeWidth: 1.5 };

export default function App() {
  return (
    <div style={{ position: "absolute", left: 0, top: 0, background: "#fff" }}>
      <LineChart width={1500} height={1050} margin={{ top: 27, right: 43, bottom: 18, left: 13 }}>
        <CartesianGrid horizontal={false} stroke="#a0a0a0" strokeDasharray="4 4" />
        <XAxis dataKey="k" type="number" domain={[0, 7.578]} ticks={kTicks} interval={0} allowDataOverflow
          height={40} tickSize={0} tickMargin={0} tickLine={false} axisLine={frame} tick={<BottomTick />} />
        <XAxis xAxisId="top" orientation="top" dataKey="k" type="number" domain={[0, 7.578]} ticks={kTicks}
          interval={0} allowDataOverflow height={1} tickSize={0} tickMargin={0} tickLine={false} axisLine={frame} tick={<TopTick />} />
        <YAxis type="number" domain={[-5, 2]} ticks={eTicks} interval={0} allowDataOverflow width={50}
          tickSize={0} tickMargin={0} tickLine={false} axisLine={frame} tick={<LeftTick />} />
        <YAxis yAxisId="right" orientation="right" type="number" domain={[-5, 2]} ticks={eTicks} interval={0}
          allowDataOverflow width={1} tickSize={0} tickMargin={0} tickLine={false} axisLine={frame} tick={<RightTick />} />
        <ReferenceLine y={0} stroke="#56b4e9" strokeWidth={2} />
        {smoothSeries.map((d, i) => (
          <Line key={"s" + i} data={d} dataKey="e" type="monotone" stroke="#000" strokeWidth={1.5}
            dot={false} activeDot={false} isAnimationActive={false} />
        ))}
        {straightSeries.map((d, i) => (
          <Line key={"l" + i} data={d} dataKey="e" type="linear" stroke="#000" strokeWidth={1.5}
            dot={false} activeDot={false} isAnimationActive={false} />
        ))}
      </LineChart>
    </div>
  );
}
